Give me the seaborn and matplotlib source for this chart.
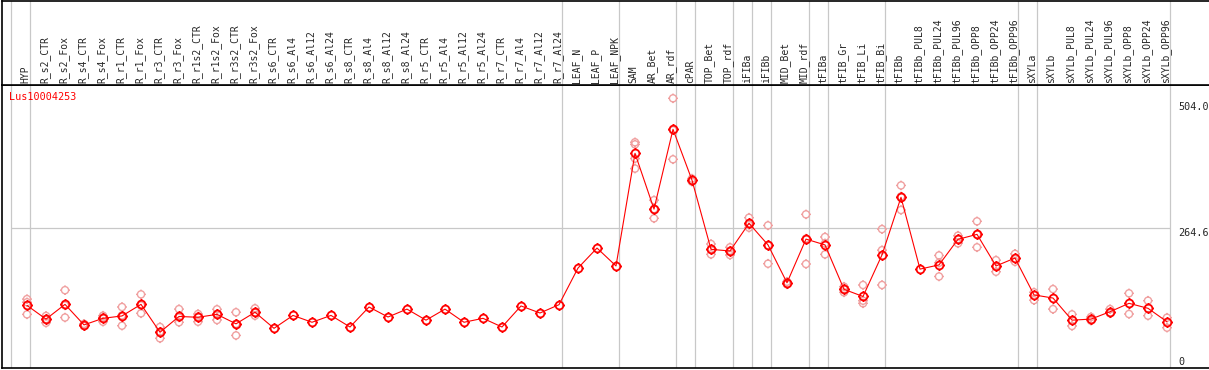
import numpy as np
import pandas as pd
import matplotlib
matplotlib.use("Agg")
import matplotlib.pyplot as plt
from matplotlib.path import Path
import seaborn as sns

# sample names (header labels)
samples = ['HYP', 'R_s2_CTR', 'R_s2_Fox', 'R_s4_CTR', 'R_s4_Fox', 'R_r1_CTR', 'R_r1_Fox',
           'R_r3_CTR', 'R_r3_Fox', 'R_r1s2_CTR', 'R_r1s2_Fox', 'R_r3s2_CTR', 'R_r3s2_Fox',
           'R_s6_CTR', 'R_s6_Al4', 'R_s6_Al12', 'R_s6_Al24', 'R_s8_CTR', 'R_s8_Al4',
           'R_s8_Al12', 'R_s8_Al24', 'R_r5_CTR', 'R_r5_Al4', 'R_r5_Al12', 'R_r5_Al24',
           'R_r7_CTR', 'R_r7_Al4', 'R_r7_Al12', 'R_r7_Al24', 'LEAF_N', 'LEAF_P', 'LEAF_NPK',
           'SAM', 'AR_Bet', 'AR_rdf', 'cPAR', 'TOP_Bet', 'TOP_rdf', 'iFIBa', 'iFIBb',
           'MID_Bet', 'MID_rdf', 'tFIBa', 'tFIB_Gr', 'tFIB_Li', 'tFIB_Bi', 'tFIBb',
           'tFIBb_PUL8', 'tFIBb_PUL24', 'tFIBb_PUL96', 'tFIBb_OPP8', 'tFIBb_OPP24',
           'tFIBb_OPP96', 'sXYLa', 'sXYLb', 'sXYLb_PUL8', 'sXYLb_PUL24', 'sXYLb_PUL96',
           'sXYLb_OPP8', 'sXYLb_OPP24', 'sXYLb_OPP96']

# mean expression per sample
means = [117, 91, 119, 80, 92.5, 97, 119, 66, 96, 94.5, 100, 82, 104,
         73.5, 98, 85, 98, 76, 114, 95, 110, 89, 110, 85, 92.5, 76, 116, 102.6, 118.4,
         188, 226, 192, 406, 300, 451.6, 355, 223.6, 220.4, 273, 232,
         160, 243, 232, 147.6, 134, 213, 322.4, 186, 194, 242.6, 252, 192, 207,
         137, 131, 89, 91, 105, 121, 111.5, 86]

# replicate values per sample (empty where none visible)
replicates = [[129, 123, 100], [97, 91, 84], [146, 117, 94], [82, 80, 78], [97.5, 94, 86],
              [114, 98, 78.5], [138, 117, 102], [76, 67, 54.5], [110, 94, 85],
              [100.7, 96, 86], [109.6, 101, 89.3], [104, 82, 60], [111.5, 103, 97.5],
              [], [], [], [], [], [], [], [], [], [], [], [], [], [], [], [],
              [], [], [], [427, 423, 396, 377], [317, 300, 282.5], [510.5, 450, 394.6],
              [358, 352], [233.7, 223, 214], [227.4, 221, 212.8], [283.7, 270, 264.7],
              [269, 231, 196.3], [162, 157], [290, 244, 195.7], [247, 235, 214],
              [152.6, 148, 141.9], [155.8, 126, 121], [262, 222, 155.8], [345, 324, 298.3],
              [], [212, 198, 172], [249.5, 243, 235], [276.8, 252, 227.4], [203, 192, 181],
              [215, 200], [142, 127], [148, 110], [100, 78], [95, 88], [110, 102],
              [140, 100.7], [126, 97.5], [93.7, 74.7]]

# separators drawn after these samples (None = before the first one)
group_ends = [None, 'HYP', 'R_r7_Al24', 'LEAF_NPK', 'AR_rdf', 'cPAR', 'TOP_rdf', 'iFIBa',
              'iFIBb', 'MID_rdf', 'tFIBa', 'tFIB_Bi', 'tFIBb_OPP96', 'sXYLa', 'sXYLb_OPP96']

y_ticks = [504.0, 264.6, 0]
gene = 'Lus10004253'

pos = np.arange(len(samples))
df_mean = pd.DataFrame({'pos': pos, 'value': means})
df_rep = pd.DataFrame([(i, v) for i, r in enumerate(replicates) for v in r],
                      columns=['pos', 'value'])

sns.set_style("white")
plt.rcParams['font.family'] = ['DejaVu Sans Mono']

# circle with little ticks, like the original markers
circ = Path.unit_circle()
tk = 1.35
ticks = Path([(0, 1), (0, tk), (0, -1), (0, -tk), (1, 0), (tk, 0), (-1, 0), (-tk, 0)],
             [Path.MOVETO, Path.LINETO] * 4)
gear = Path.make_compound_path(circ, ticks)

W, H = 1209, 370
fig = plt.figure(figsize=(W / 100, H / 100), dpi=100)
ax = fig.add_axes([2 / W, 2 / H, 1 - 2 / W, 283 / H])
hx = fig.add_axes([2 / W, 285 / H, 1 - 2 / W, 84.5 / H], sharex=ax)

off = 3 / 19
xlo, xhi = (2 - 27) / 19, (1209 - 27) / 19
sep_x = [(-1 if g is None else samples.index(g)) + off for g in group_ends]

for a in (ax, hx):
    for x in sep_x:
        a.axvline(x, color='#c8c8c8', lw=0.9, zorder=0)
ax.hlines(y_ticks[1], sep_x[0], sep_x[-1], color='#c8c8c8', lw=0.9, zorder=0)

sc = sns.scatterplot(data=df_rep, x='pos', y='value', marker=gear, s=48, ax=ax,
                     color='#f0a0a0', linewidth=1.0, zorder=2, legend=False)
sc.collections[-1].set_facecolor('none')
sc.collections[-1].set_edgecolor('#f0a0a0')

sns.lineplot(data=df_mean, x='pos', y='value', ax=ax, color='red', lw=0.8,
             marker=gear, ms=7.6, mfc='none', mec='red', mew=1.3, zorder=3)

ax.set_xlim(xlo, xhi)
ax.set_ylim(-1.9, 535.8)
ax.set_xlabel('')
ax.set_ylabel('')
ax.set_xticks([])
ax.set_yticks([])
hx.set_yticks([])
hx.tick_params(labelbottom=False, bottom=False)

for a in (ax, hx):
    a.spines['right'].set_visible(False)
    for s in ('left', 'top', 'bottom'):
        a.spines[s].set_color('black')
        a.spines[s].set_linewidth(1.2)

for i, name in enumerate(samples):
    hx.text(i - 0.08, 2 / 84.5, name, rotation=90, ha='center', va='bottom',
            fontsize=7, transform=hx.get_xaxis_transform())

lx = sep_x[-1] + 0.42
ax.text(lx, y_ticks[0] - 1, '504.0', fontsize=7.3, va='top', ha='left')
ax.text(lx, y_ticks[1] - 1, '264.6', fontsize=7.3, va='top', ha='left')
ax.text(lx, 3.5, '0', fontsize=7.3, va='baseline', ha='left')

fig.text(9 / W, 1 - 97.5 / H, gene, color='red', fontsize=7.3, va='center', ha='left')

fig.savefig('out.png', dpi=100)
